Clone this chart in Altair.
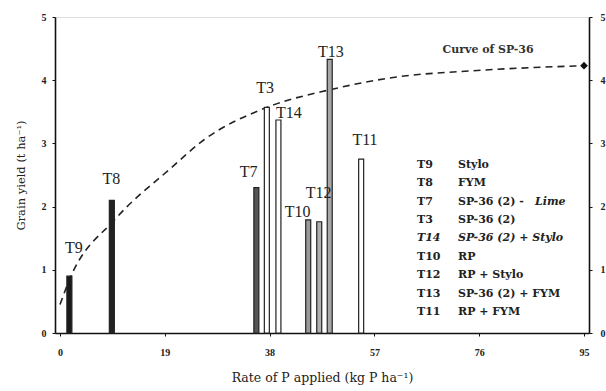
import altair as alt
import pandas as pd

# ---- data ----
treatments = ["T9", "T8", "T7", "T3", "T14", "T10", "T12", "T13", "T11"]
p_rate = [1.7, 9.4, 35.6, 37.5, 39.6, 45.0, 47.0, 48.9, 54.6]
grain_yield = [0.90, 2.10, 2.30, 3.57, 3.37, 1.79, 1.76, 4.33, 2.75]
label_x = [2.5, 9.3, 34.2, 37.2, 41.5, 43.1, 46.9, 49.1, 55.3]
label_y = [1.34, 2.44, 2.55, 3.88, 3.48, 1.92, 2.22, 4.45, 3.05]

curve_x = [0, 1.7, 10, 20, 26, 37.5, 49, 61, 75, 95]
curve_y = [0.45, 0.84, 1.80, 2.60, 3.05, 3.57, 3.85, 4.05, 4.15, 4.23]

legend_codes = ["T9", "T8", "T7", "T3", "T14", "T10", "T12", "T13", "T11"]
legend_names = ["Stylo", "FYM", "SP-36 (2) - ", "SP-36 (2)", "SP-36 (2) + Stylo",
                "RP", "RP + Stylo", "SP-36 (2) + FYM", "RP + FYM"]
legend_italic = [False, False, False, False, True, False, False, False, False]

x_ticks = [0, 19, 38, 57, 76, 95]

FONT = "Liberation Serif"
LFONT = "DejaVu Serif"
XS = alt.Scale(domain=[0, 95], nice=False, zero=False)
YS = alt.Scale(domain=[0, 5], nice=False)

bars_df = pd.DataFrame({"t": treatments, "rate": p_rate, "yield": grain_yield})
lab_df = pd.DataFrame({"t": treatments, "lx": label_x, "ly": label_y})
curve_df = pd.DataFrame({"rate": curve_x, "yield": curve_y})

leg_top = 2.66
leg_step = 0.291
leg_df = pd.DataFrame({
    "code": legend_codes,
    "name": legend_names,
    "italic": legend_italic,
    "row": list(range(len(legend_codes))),
})
leg_df["ly"] = leg_top - leg_df["row"] * leg_step

x_enc = alt.X("rate:Q", scale=XS,
              axis=alt.Axis(values=x_ticks, format="d",
                            title="Rate of P applied (kg P ha\u207b\u00b9)",
                            titleFont=LFONT, titleFontSize=12.5, titleFontWeight="normal",
                            titleColor="#222", titlePadding=14,
                            labelFont=FONT, labelFontSize=10, labelFontWeight="bold",
                            labelColor="#222", labelPadding=11,
                            domainColor="#111", domainWidth=1.6,
                            tickColor="#111", tickSize=3, grid=False))
y_enc = alt.Y("yield:Q", scale=YS,
              axis=alt.Axis(values=[0, 1, 2, 3, 4, 5], format="d",
                            title="Grain yield (t ha\u207b\u00b9)",
                            titleFont=LFONT, titleFontSize=11.5, titleFontWeight="normal",
                            titleColor="#222", titlePadding=15,
                            labelFont=FONT, labelFontSize=10, labelFontWeight="bold",
                            labelColor="#222", labelPadding=6,
                            domainColor="#111", domainWidth=1.6,
                            tickColor="#111", tickSize=3, grid=False))

fill_scale = alt.Scale(
    domain=treatments,
    range=["#1a1a1a", "#222222", "#555555", "#ffffff", "#ffffff",
           "#9a9a9a", "#b0b0b0", "#a8a8a8", "#ffffff"])

bars = alt.Chart(bars_df).mark_bar(size=5, stroke="#222", strokeWidth=1.2).encode(
    x=x_enc, y=y_enc,
    fill=alt.Fill("t:N", scale=fill_scale, legend=None),
)

curve = alt.Chart(curve_df).mark_line(
    color="#222", strokeDash=[7, 5], strokeWidth=1.6, interpolate="monotone"
).encode(x="rate:Q", y="yield:Q")

end_pt = alt.Chart(curve_df.tail(1)).mark_point(
    shape="diamond", filled=True, size=60, color="#111", opacity=1
).encode(x="rate:Q", y="yield:Q")

labels = alt.Chart(lab_df).mark_text(
    font=FONT, fontSize=16, color="#222", baseline="middle", align="center"
).encode(x=alt.X("lx:Q", scale=XS), y=alt.Y("ly:Q", scale=YS), text="t:N")

curve_title = alt.Chart(pd.DataFrame({"tx": [77.6], "ty": [4.48], "s": ["Curve of SP-36"]})).mark_text(
    font=LFONT, fontSize=11, fontWeight="bold", color="#333", align="center", baseline="middle"
).encode(x=alt.X("tx:Q", scale=XS), y=alt.Y("ty:Q", scale=YS), text="s:N")

LSIZE = 11
leg_codes_reg = alt.Chart(leg_df).transform_filter("!datum.italic").mark_text(
    font=LFONT, fontSize=LSIZE, fontWeight="bold", color="#222", align="left", baseline="middle"
).encode(x=alt.value(362), y=alt.Y("ly:Q", scale=YS), text="code:N")
leg_codes_it = alt.Chart(leg_df).transform_filter("datum.italic").mark_text(
    font=LFONT, fontSize=LSIZE, fontWeight="bold", fontStyle="italic", color="#222",
    align="left", baseline="middle"
).encode(x=alt.value(362), y=alt.Y("ly:Q", scale=YS), text="code:N")
leg_names_reg = alt.Chart(leg_df).transform_filter("!datum.italic").mark_text(
    font=LFONT, fontSize=LSIZE, fontWeight="bold", color="#222", align="left", baseline="middle"
).encode(x=alt.value(403), y=alt.Y("ly:Q", scale=YS), text="name:N")
leg_names_it = alt.Chart(leg_df).transform_filter("datum.italic").mark_text(
    font=LFONT, fontSize=LSIZE, fontWeight="bold", fontStyle="italic", color="#222",
    align="left", baseline="middle"
).encode(x=alt.value(403), y=alt.Y("ly:Q", scale=YS), text="name:N")
lime = alt.Chart(leg_df[leg_df["code"] == "T7"].assign(s="Lime")).mark_text(
    font=LFONT, fontSize=LSIZE, fontWeight="bold", fontStyle="italic", color="#222",
    align="left", baseline="middle"
).encode(x=alt.value(480), y=alt.Y("ly:Q", scale=YS), text="s:N")

main = alt.layer(curve, bars, end_pt, labels, curve_title,
                 leg_codes_reg, leg_codes_it, leg_names_reg, leg_names_it, lime)

right_axis = alt.Chart(pd.DataFrame({"yield": [0, 5]})).mark_point(opacity=0).encode(
    x=alt.value(0),
    y=alt.Y("yield:Q", scale=YS,
            axis=alt.Axis(orient="right", values=[0, 1, 2, 3, 4, 5], format="d", title=None,
                          labelFont=FONT, labelFontSize=10, labelFontWeight="bold",
                          labelColor="#222", labelPadding=8,
                          domainColor="#111", domainWidth=1.6,
                          tickColor="#111", tickSize=3, grid=False)),
)

chart = alt.layer(main, right_axis).resolve_scale(y="independent").properties(
    width=534, height=316,
    autosize=alt.AutoSizeParams(type="none"),
    padding={"left": 55, "top": 17, "right": 17, "bottom": 58},
).configure_view(stroke=None).configure(background="white")

chart.save("out.html", embed_options={"renderer": "svg", "actions": False})
